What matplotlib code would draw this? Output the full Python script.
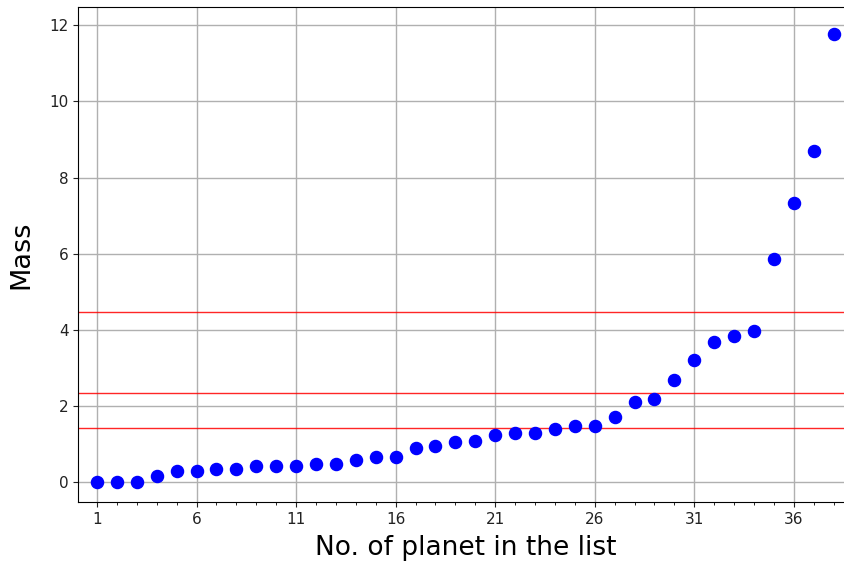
import matplotlib
matplotlib.use("Agg")
import matplotlib.pyplot as plt
from matplotlib.ticker import MultipleLocator, FixedLocator

planet_no = list(range(1, 39))
mass = [0.0, 0.0, 0.0, 0.18, 0.30, 0.30, 0.35, 0.35, 0.43, 0.43,
        0.44, 0.49, 0.49, 0.58, 0.67, 0.67, 0.90, 0.95, 1.05, 1.10,
        1.24, 1.29, 1.29, 1.39, 1.49, 1.49, 1.73, 2.11, 2.19, 2.69,
        3.21, 3.69, 3.84, 3.97, 5.86, 7.33, 8.71, 11.76]
thresholds = [4.48, 2.34, 1.44]
xtick_vals = [1, 6, 11, 16, 21, 26, 31, 36]

fig = plt.figure(figsize=(8.45, 5.70), dpi=100)
ax = fig.add_axes([0.0927, 0.1188, 0.916, 0.8692])

ax.grid(True, color="#b0b0b0", linewidth=1.0)
ax.set_axisbelow(True)
for t in thresholds:
    ax.axhline(t, color="red", linewidth=1.0, alpha=0.85)
ax.plot(planet_no, mass, "o", color="blue", markersize=8.7, linestyle="none")

ax.set_xlim(0.06, 38.94)
ax.set_ylim(-0.52, 12.48)
ax.xaxis.set_major_locator(FixedLocator(xtick_vals))
ax.xaxis.set_minor_locator(MultipleLocator(1))
ax.yaxis.set_major_locator(MultipleLocator(2))
ax.tick_params(axis="both", labelsize=11, colors="#222222")
ax.tick_params(axis="x", which="minor", length=2.5)

ax.set_xlabel("No. of planet in the list", fontsize=19, labelpad=6)
ax.set_ylabel("Mass", fontsize=19.5, labelpad=11)

fig.savefig("out.png", dpi=100)
